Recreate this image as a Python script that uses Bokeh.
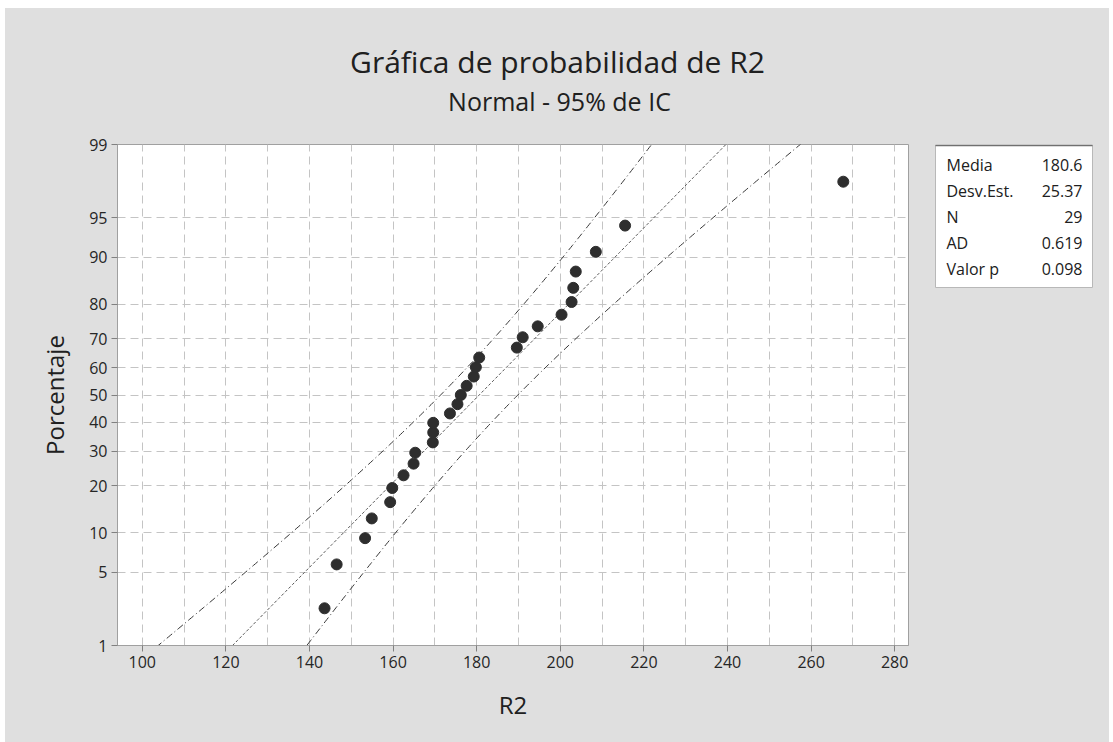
import math
import numpy as np
from bokeh.plotting import figure
from bokeh.layouts import row, column
from bokeh.models import (ColumnDataSource, FixedTicker, CustomJSTickFormatter, Range1d)
from bokeh.core.properties import value
from bokeh.embed import file_html
from bokeh.resources import INLINE

# ---------------- data ----------------
title_text = "Gráfica de probabilidad de R2"
subtitle_text = "Normal - 95% de IC"
x_label = "R2"
y_label = "Porcentaje"

r2_values = [143.6, 146.5, 153.3, 154.9, 159.3, 159.8, 162.5, 164.9, 165.3, 169.5,
             169.6, 169.6, 173.6, 175.4, 176.2, 177.6, 179.3, 179.8, 180.6, 189.6,
             191.0, 194.6, 200.3, 202.7, 203.1, 203.7, 208.5, 215.5, 267.7]
percent_values = [2.381, 5.782, 9.184, 12.585, 15.986, 19.388, 22.789, 26.190, 29.592, 32.993,
                  36.395, 39.796, 43.197, 46.599, 50.000, 53.401, 56.803, 60.204, 63.605, 67.007,
                  70.408, 73.810, 77.211, 80.612, 84.014, 87.415, 90.816, 94.218, 97.619]

x_ticks = [100, 120, 140, 160, 180, 200, 220, 240, 260, 280]
x_grid = [100, 110, 120, 130, 140, 150, 160, 170, 180, 190, 200, 210, 220, 230, 240, 250, 260, 270, 280]
y_tick_percents = [1, 5, 10, 20, 30, 40, 50, 60, 70, 80, 90, 95, 99]
y_tick_labels = ["1", "5", "10", "20", "30", "40", "50", "60", "70", "80", "90", "95", "99"]

stat_names = ["Media", "Desv.Est.", "N", "AD", "Valor p"]
stat_values = ["180.6", "25.37", "29", "0.619", "0.098"]
mean_val = 180.6
sd_val = 25.37
n_val = 29
conf_z = 1.959964

FONT = "Open Sans"
BG = "#dfdfdf"


def norm_ppf(p):
    lo, hi = -10.0, 10.0
    for _ in range(200):
        mid = (lo + hi) / 2
        if 0.5 * (1 + math.erf(mid / math.sqrt(2))) < p:
            lo = mid
        else:
            hi = mid
    return (lo + hi) / 2


z_points = [norm_ppf(v / 100.0) for v in percent_values]
y_tick_z = [norm_ppf(v / 100.0) for v in y_tick_percents]
zmin, zmax = y_tick_z[0], y_tick_z[-1]

# fitted line and 95% confidence band (from the stated mean / sd)
zs = np.linspace(zmin - 0.1, zmax + 0.1, 300)
fit_x = mean_val + sd_val * zs
half = conf_z * sd_val * np.sqrt((1 + zs ** 2 / 2) / n_val)
lo_x = fit_x - half
hi_x = fit_x + half


def blank_fig(w, h, xr, yr):
    f = figure(width=w, height=h, output_backend="svg", toolbar_location=None,
               x_range=Range1d(*xr), y_range=Range1d(*yr),
               x_axis_type=None, y_axis_type=None,
               min_border=0, background_fill_color=BG, border_fill_color=BG,
               outline_line_color=None)
    f.grid.visible = False
    return f


# ---------------- header (title / subtitle) ----------------
header = blank_fig(1104, 126, (5, 1109), (134, 8))
header.text(x=[557], y=[61], text=[title_text], text_font=value(FONT),
            text_font_size=value("30px"), text_align="center", text_baseline="middle",
            text_color="#202020")
header.text(x=[559], y=[100], text=[subtitle_text], text_font=value(FONT),
            text_font_size=value("25px"), text_align="center", text_baseline="middle",
            text_color="#202020")

# ---------------- main probability plot ----------------
p = figure(width=920, height=608, output_backend="svg", toolbar_location=None,
           x_range=Range1d(94.07, 283.3), y_range=Range1d(zmin, zmax),
           min_border_left=112, min_border_right=17, min_border_top=10,
           min_border_bottom=97, background_fill_color="white",
           border_fill_color=BG, outline_line_color="#a0a0a0",
           outline_line_width=1)

p.xaxis.ticker = FixedTicker(ticks=x_ticks)
p.yaxis.ticker = FixedTicker(ticks=y_tick_z)
p.yaxis.formatter = CustomJSTickFormatter(args=dict(zt=y_tick_z, lab=y_tick_labels), code="""
let best = 0, d = 1e9;
for (let i = 0; i < zt.length; i++) { const e = Math.abs(zt[i] - tick); if (e < d) { d = e; best = i; } }
return lab[best];
""")
p.xgrid.ticker = FixedTicker(ticks=x_grid)
p.ygrid.ticker = FixedTicker(ticks=y_tick_z[1:-1])
for g in (p.xgrid, p.ygrid):
    g.grid_line_color = "#c4c4c4"
    g.grid_line_dash = "8 5"
    g.grid_line_width = 1

for ax in (p.xaxis, p.yaxis):
    ax.axis_line_color = "#a0a0a0"
    ax.major_tick_line_color = "#808080"
    ax.major_tick_out = 6
    ax.major_tick_in = 0
    ax.minor_tick_line_color = None
    ax.major_label_text_font = FONT
    ax.major_label_text_font_size = "16px"
    ax.major_label_text_color = "#262626"
    ax.axis_label_text_font = FONT
    ax.axis_label_text_font_size = "24px"
    ax.axis_label_text_font_style = "normal"
    ax.axis_label_text_color = "#202020"
    ax.major_label_standoff = 4

p.xaxis.axis_label = x_label
p.yaxis.axis_label = y_label
p.xaxis.axis_label_standoff = 17
p.yaxis.axis_label_standoff = 15

p.line(lo_x, zs, line_color="#333333", line_width=1, line_dash="7 3 1 3")
p.line(hi_x, zs, line_color="#333333", line_width=1, line_dash="7 3 1 3")
p.line(fit_x, zs, line_color="#555555", line_width=1, line_dash="3 2")

src = ColumnDataSource(dict(x=r2_values, z=z_points, pct=percent_values))
p.scatter("x", "z", source=src, size=11, fill_color="#2e2e2e", line_color="#2e2e2e")

# ---------------- stats box (frame is aligned with the main plot's frame) ----------------
s = blank_fig(184, 608, (925, 1109), (645, 144))
s.quad(left=[935], right=[1092], top=[144.5], bottom=[287], fill_color="white",
       line_color="#b8b8b8", line_width=1)
s.segment(x0=[935], y0=[145], x1=[1092], y1=[145], line_color="#707070", line_width=1.5)
row_y = [164, 190, 216, 242, 268]
s.text(x=[946] * len(stat_names), y=row_y, text=stat_names, text_font=value(FONT),
       text_font_size=value("16px"), text_align="left", text_baseline="middle",
       text_color="#202020")
s.text(x=[1082] * len(stat_values), y=row_y, text=stat_values, text_font=value(FONT),
       text_font_size=value("16px"), text_align="right", text_baseline="middle",
       text_color="#202020")

layout = column(header, row(p, s, spacing=0, styles={"background-color": BG}),
                spacing=0, margin=(8, 4, 0, 5), styles={"background-color": BG})

open("out.html", "w").write(file_html(layout, INLINE))
